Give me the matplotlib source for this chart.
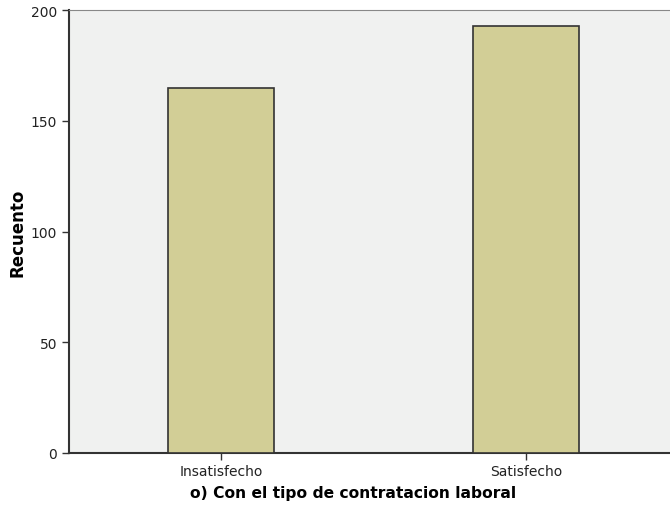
import matplotlib.pyplot as plt
import numpy as np

plt.rcParams['font.family'] = ['DejaVu Sans']

categorias = ['Insatisfecho', 'Satisfecho']
recuento = [165, 193]
yticks = [0, 50, 100, 150, 200]

fig = plt.figure(figsize=(6.7, 5.1), dpi=100)
ax = fig.add_axes([0.103, 0.11, 0.897, 0.868])
ax.set_facecolor('#f0f1f0')

x = np.arange(len(categorias))
ax.bar(x, recuento, width=0.35, color='#d2ce96', edgecolor='#333333', linewidth=1.2, zorder=3)

ax.set_xlim(-0.498, 1.472)
ax.set_ylim(0, 200)
ax.set_yticks(yticks)
ax.set_xticks(x)
ax.set_xticklabels(categorias)
ax.tick_params(axis='both', length=5, width=1, color='#333333', labelcolor='#222222', labelsize=10)
ax.tick_params(axis='x', pad=3)

ax.spines['right'].set_visible(False)
ax.spines['top'].set_color('#888888')
ax.spines['left'].set_color('#333333')
ax.spines['bottom'].set_color('#333333')
ax.spines['left'].set_linewidth(1.5)
ax.spines['bottom'].set_linewidth(1.5)

ax.set_ylabel('Recuento', fontsize=12, fontweight='bold', labelpad=3)
ax.set_xlabel('o) Con el tipo de contratacion laboral', fontsize=11.2, fontweight='bold')
ax.xaxis.set_label_coords(0.4725, -0.072)

fig.savefig('out.png', dpi=100)
